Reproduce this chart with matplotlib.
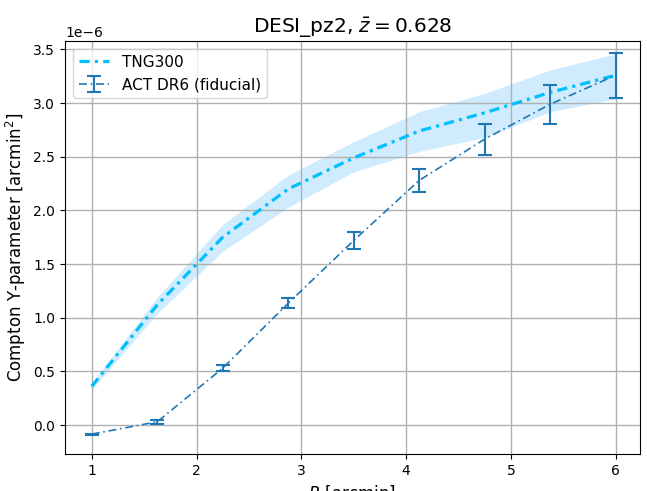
import numpy as np
import matplotlib.pyplot as plt

R = np.array([1.0, 1.625, 2.25, 2.875, 3.5, 4.125, 4.75, 5.375, 6.0])

# TNG300 mean profile and band (units of 1e-6 arcmin^2)
tng = np.array([0.36, 1.12, 1.75, 2.20, 2.49, 2.74, 2.91, 3.10, 3.26])
tng_lo = np.array([0.33, 1.04, 1.62, 2.03, 2.36, 2.55, 2.68, 2.92, 3.04])
tng_hi = np.array([0.39, 1.19, 1.87, 2.33, 2.64, 2.92, 3.09, 3.31, 3.46])

# ACT DR6 measurement
act = np.array([-0.085, 0.03, 0.53, 1.135, 1.72, 2.28, 2.665, 2.99, 3.26])
act_err = np.array([0.005, 0.02, 0.025, 0.045, 0.075, 0.11, 0.145, 0.18, 0.21])

scale = 1e-6

fig, ax = plt.subplots(figsize=(6.47, 4.91), dpi=100)
fig.subplots_adjust(left=0.1005, right=0.989, top=0.9165, bottom=0.0754)

ax.fill_between(R, tng_lo * scale, tng_hi * scale, color='lightskyblue', alpha=0.4, lw=0)
ax.plot(R, tng * scale, color='deepskyblue', lw=2.3,
        linestyle=(0, (3.2, 1.6, 1, 1.6)), label='TNG300')
ax.errorbar(R, act * scale, yerr=act_err * scale, color='tab:blue',
            lw=1.2, linestyle=(0, (4.8, 2.2, 1, 2.2)), capsize=5,
            elinewidth=1.5, capthick=1.5, label='ACT DR6 (fiducial)')

ax.set_xlim(0.745, 6.23)
ax.set_ylim(-0.27e-6, 3.579e-6)
ax.set_xlabel(r'$R$ [arcmin]', fontsize=12)
ax.set_ylabel(r'Compton Y-parameter [arcmin$^2$]', fontsize=12)
ax.set_title(r'DESI_pz2, $\bar{z} = 0.628$', fontsize=14.5)
ax.tick_params(labelsize=10)
ax.yaxis.get_offset_text().set_fontsize(10)
ax.grid(True, lw=1)
ax.legend(loc='upper left', fontsize=11)

fig.savefig('out.png', dpi=100)
